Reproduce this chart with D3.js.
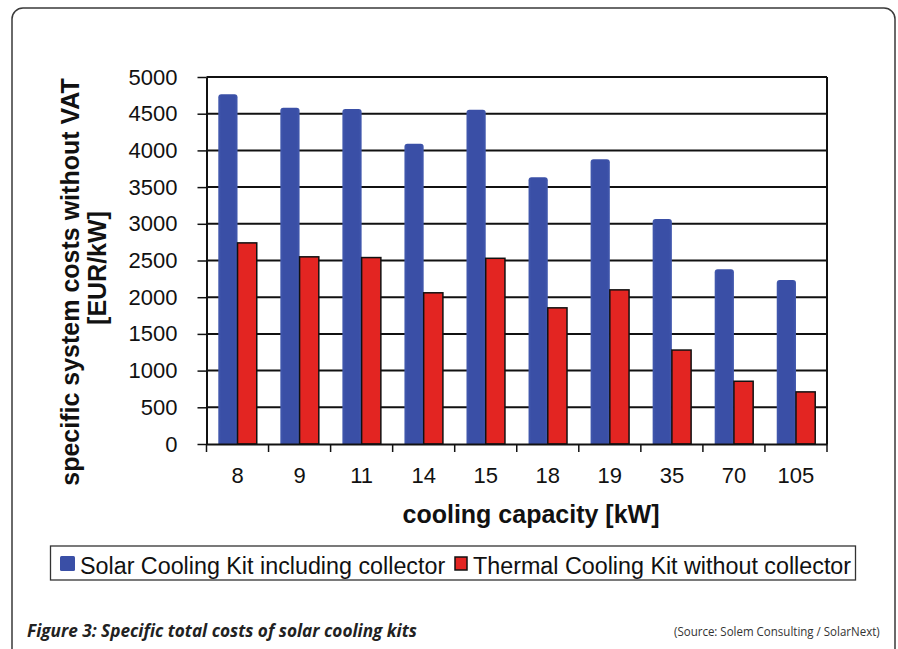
<!DOCTYPE html>
<html><head><meta charset="utf-8">
<script src="https://cdn.jsdelivr.net/npm/d3@7"></script>
<style>body{margin:0;background:#fff}svg{display:block}</style>
</head><body>
<svg id="c" width="898" height="649"></svg>
<script>
const categories = ["8","9","11","14","15","18","19","35","70","105"];
const solarKit = [4765,4580,4565,4090,4555,3635,3880,3065,2380,2235];
const thermalKit = [2740,2550,2540,2060,2530,1855,2100,1280,855,710];
const seriesNames = ["Solar Cooling Kit including collector","Thermal Cooling Kit without collector"];
const yTicks = [0,500,1000,1500,2000,2500,3000,3500,4000,4500,5000];
const yTitleLines = ["specific system costs without VAT","[EUR/kW]"];
const xTitle = "cooling capacity [kW]";
const caption = "Figure 3: Specific total costs of solar cooling kits";
const source = "(Source: Solem Consulting / SolarNext)";

const svg = d3.select("#c");
const blue = "#3a4fa6", red = "#e32522";
const FONT = "'Liberation Sans',Arimo,Arial,sans-serif";
const L = 206.5, R = 827, T = 77, B = 444;

// outer rounded frame
svg.append("rect").attr("x",12).attr("y",8).attr("width",883).attr("height",660)
  .attr("rx",11).attr("fill","none").attr("stroke","#3a3a3a").attr("stroke-width",1.5);

const x = d3.scaleBand().domain(categories).range([L,R]).padding(0);
const bw = x.bandwidth();
const x1 = d3.scaleBand().domain([0,1]).range([bw*0.19, bw*0.81]).padding(0);
const y = d3.scaleLinear().domain([0,5000]).range([B,T]);

// gridlines
svg.append("g").selectAll("line").data(yTicks.filter(d=>d>0)).join("line")
  .attr("x1",L).attr("x2",R).attr("y1",d=>y(d)).attr("y2",d=>y(d))
  .attr("stroke","#111").attr("stroke-width",2);
svg.append("line").attr("x1",R).attr("x2",R).attr("y1",T).attr("y2",B).attr("stroke","#111").attr("stroke-width",2);

function topRounded(x0,w,yt,yb,r){
  r=Math.min(r,w/2,(yb-yt));
  return `M${x0},${yb}V${yt+r}Q${x0},${yt} ${x0+r},${yt}H${x0+w-r}Q${x0+w},${yt} ${x0+w},${yt+r}V${yb}Z`;
}
const defs = svg.append("defs");
const g1 = defs.append("linearGradient").attr("id","bg").attr("x1","0").attr("x2","1").attr("y1","0").attr("y2","0");
g1.append("stop").attr("offset","0").attr("stop-color","#4259ae");
g1.append("stop").attr("offset","0.15").attr("stop-color",blue);
g1.append("stop").attr("offset","0.85").attr("stop-color",blue);
g1.append("stop").attr("offset","1").attr("stop-color","#4259ae");

svg.append("g").selectAll("path").data(solarKit).join("path")
  .attr("d",(d,i)=>topRounded(x(categories[i])+x1(0), x1.bandwidth(), y(d), y(0), 3))
  .attr("fill","url(#bg)");
svg.append("g").selectAll("rect").data(thermalKit).join("rect")
  .attr("x",(d,i)=>x(categories[i])+x1(1)).attr("width",x1.bandwidth())
  .attr("y",d=>y(d)).attr("height",d=>y(0)-y(d))
  .attr("fill",red).attr("stroke","#111").attr("stroke-width",1.5);

// axes
const yAxis = svg.append("g").attr("transform",`translate(${L},0)`)
  .call(d3.axisLeft(y).tickValues(yTicks).tickFormat(d3.format("d")).tickSize(9).tickPadding(20).tickSizeOuter(0));
yAxis.select(".domain").attr("stroke","#111").attr("stroke-width",2);
yAxis.selectAll(".tick line").attr("stroke","#111").attr("stroke-width",1.5);
yAxis.selectAll("text").attr("font-family",FONT).attr("font-size",22).attr("fill","#111");

const xAxis = svg.append("g").attr("transform",`translate(0,${B})`)
  .call(d3.axisBottom(x).tickSize(0).tickPadding(23));
xAxis.select(".domain").attr("stroke","#111").attr("stroke-width",2);
xAxis.selectAll("text").attr("font-family",FONT).attr("font-size",22).attr("fill","#111");
svg.append("g").selectAll("line").data(categories.map(c=>x(c)).concat([R])).join("line")
  .attr("x1",d=>d).attr("x2",d=>d).attr("y1",B).attr("y2",B+8)
  .attr("stroke","#111").attr("stroke-width",1.5);

// y title
svg.append("text").attr("transform","translate(79,282) rotate(-90)")
  .attr("font-family",FONT).attr("font-weight","bold")
  .attr("font-size",25).attr("fill","#111").attr("text-anchor","middle").text(yTitleLines[0]);
svg.append("text").attr("transform","translate(106,268) rotate(-90)")
  .attr("font-family",FONT).attr("font-weight","bold")
  .attr("font-size",25).attr("fill","#111").attr("text-anchor","middle").text(yTitleLines[1]);

// x title
svg.append("text").attr("x",531).attr("y",523)
  .attr("font-family",FONT).attr("font-weight","bold")
  .attr("font-size",25).attr("fill","#111").attr("text-anchor","middle").text(xTitle);

// legend
svg.append("rect").attr("x",50.5).attr("y",546).attr("width",805).attr("height",34)
  .attr("fill","#fff").attr("stroke","#333").attr("stroke-width",1.3);
svg.append("rect").attr("x",60).attr("y",556).attr("width",15).attr("height",15).attr("rx",1.5).attr("fill",blue);
svg.append("text").attr("x",80).attr("y",574).attr("font-family",FONT)
  .attr("font-size",23.3).attr("fill","#111").text(seriesNames[0]);
svg.append("rect").attr("x",455).attr("y",557).attr("width",12).attr("height",13).attr("fill",red).attr("stroke","#111").attr("stroke-width",1.5);
svg.append("text").attr("x",473).attr("y",574).attr("font-family",FONT)
  .attr("font-size",23.3).attr("fill","#111").text(seriesNames[1]);

// caption & source (condensed by horizontal scaling to fit widths)
function condensed(txt, x0, yb, w, attrs){
  const g = svg.append("g").attr("transform",`translate(${x0},${yb})`);
  const t = g.append("text").attr("x",0).attr("y",0).text(txt);
  Object.entries(attrs).forEach(([k,v])=>t.attr(k,v));
  const nat = t.node().getComputedTextLength();
  t.attr("transform",`scale(${w/nat},1)`);
}
condensed(caption, 27, 637, 390, {"font-family":"'Open Sans',sans-serif","font-weight":"bold","font-style":"italic","font-size":18.5,"fill":"#222"});
condensed(source, 674, 636, 206, {"font-family":"'Open Sans',sans-serif","font-size":13,"fill":"#333"});
</script>
</body></html>
